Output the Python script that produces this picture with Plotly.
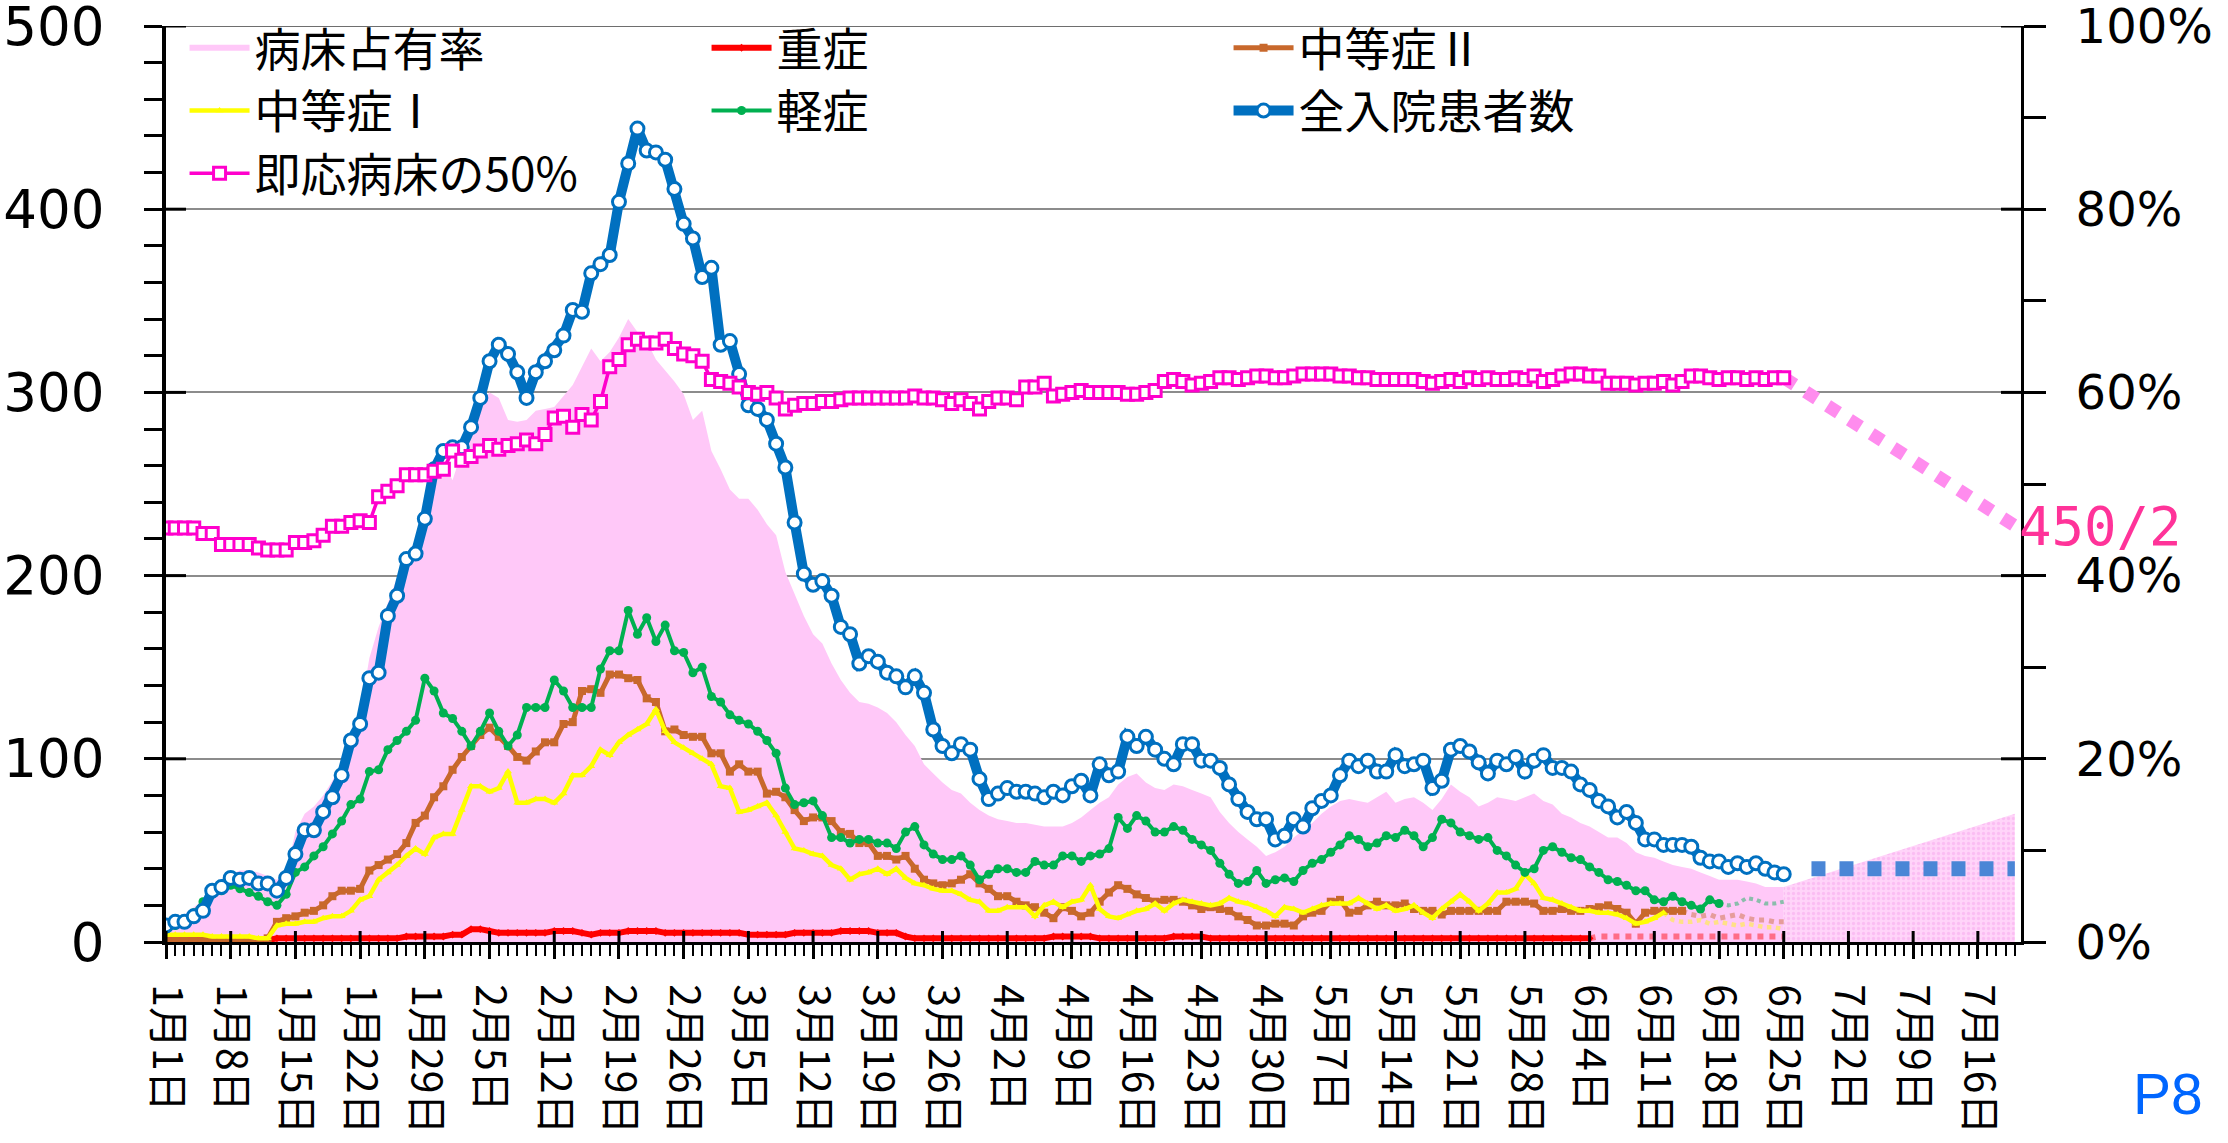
import pandas as pd
import plotly.graph_objects as go

START = "2021-01-01"

# 全入院患者数 (Jan 1 - Jun 25)
total = [9, 11, 11, 14, 17, 28, 30, 35, 34, 35,
         32, 32, 28, 35, 48, 61, 61, 71, 79, 91,
         110, 119, 144, 147, 178, 189, 209, 212, 231, 258,
         268, 270, 270, 281, 297, 317, 326, 321, 311, 297,
         311, 317, 323, 331, 345, 344, 365, 370, 375, 404,
         425, 444, 432, 431, 427, 411, 392, 384, 363, 368,
         326, 328, 310, 293, 291, 285, 272, 259, 229, 201,
         195, 197, 189, 172, 168, 152, 156, 153, 147, 145,
         139, 145, 136, 116, 107, 103, 108, 105, 89, 78,
         81, 84, 82, 82, 81, 79, 82, 80, 85, 88,
         80, 97, 91, 93, 112, 107, 112, 105, 100, 97,
         108, 108, 99, 99, 95, 86, 78, 71, 67, 67,
         56, 58, 67, 63, 73, 77, 80, 91, 99, 96,
         99, 93, 93, 102, 96, 97, 99, 84, 88, 105,
         107, 104, 98, 92, 99, 97, 101, 93, 99, 102,
         95, 95, 93, 86, 83, 77, 74, 68, 71, 65,
         56, 56, 53, 53, 53, 52, 46, 44, 44, 41,
         43, 41, 43, 40, 38, 37]

# 即応病床の50%
beds50 = [226, 226, 226, 226, 223, 223, 217, 217, 217, 217,
          215, 214, 214, 214, 218, 218, 219, 222, 227, 227,
          229, 230, 229, 243, 246, 249, 255, 255, 255, 257,
          258, 268, 263, 265, 268, 271, 269, 271, 272, 274,
          272, 277, 286, 287, 281, 288, 285, 295, 314, 318,
          326, 329, 327, 327, 329, 324, 321, 320, 317, 307,
          306, 305, 303, 300, 299, 300, 297, 291, 293, 294,
          294, 295, 295, 296, 297, 297, 297, 297, 297, 297,
          297, 298, 297, 297, 296, 294, 296, 294, 291, 295,
          297, 297, 296, 303, 303, 305, 298, 299, 300, 301,
          300, 300, 300, 300, 299, 299, 300, 301, 306, 307,
          306, 304, 305, 306, 308, 308, 307, 308, 309, 309,
          308, 308, 309, 310, 310, 310, 310, 309, 309, 308,
          308, 307, 307, 307, 307, 307, 306, 305, 306, 307,
          306, 308, 307, 308, 307, 307, 308, 307, 309, 306,
          307, 309, 310, 310, 309, 309, 305, 305, 305, 304,
          305, 305, 306, 304, 306, 309, 309, 308, 307, 308,
          308, 307, 308, 307, 308, 308]

# 軽症
mild = [7, 9, 11, 16, 22, 26, 28, 31, 29, 27,
        25, 22, 20, 26, 38, 41, 47, 52, 59, 66,
        75, 78, 93, 94, 105, 110, 115, 121, 144, 137,
        125, 122, 115, 107, 115, 125, 115, 107, 113, 128,
        128, 128, 143, 137, 128, 128, 128, 149, 159, 159,
        181, 168, 177, 164, 173, 159, 158, 147, 150, 134,
        131, 124, 121, 119, 115, 110, 103, 84, 75, 76,
        77, 69, 57, 57, 54, 56, 56, 54, 54, 51,
        60, 63, 53, 48, 45, 45, 47, 42, 34, 37,
        40, 40, 38, 38, 44, 42, 42, 47, 47, 44,
        47, 48, 51, 68, 62, 69, 66, 60, 60, 63,
        61, 56, 53, 50, 43, 37, 32, 33, 39, 32,
        34, 35, 33, 39, 43, 45, 49, 53, 58, 56,
        52, 54, 58, 57, 61, 58, 52, 57, 67, 65,
        60, 58, 56, 57, 50, 47, 42, 38, 40, 50,
        52, 49, 46, 45, 41, 38, 34, 33, 31, 28,
        28, 23, 22, 25, 22, 20, 18, 23, 21, 20,
        21, 24, 23, 21, 21, 22]

# 中等症Ⅱ
moderate2 = [1, 1, 1, 1, 1, 1, 1, 1, 1, 1,
             1, 2, 11, 13, 14, 16, 17, 20, 25, 28,
             28, 29, 39, 42, 45, 48, 54, 65, 69, 79,
             85, 94, 101, 107, 113, 117, 112, 107, 101, 99,
             104, 109, 109, 119, 120, 137, 138, 136, 146, 146,
             144, 143, 133, 131, 115, 116, 113, 112, 112, 103,
             103, 93, 97, 93, 93, 81, 82, 79, 72, 66,
             68, 68, 66, 60, 59, 54, 54, 47, 47, 45,
             47, 40, 34, 32, 31, 32, 34, 37, 32, 29,
             25, 25, 22, 20, 19, 16, 13, 19, 17, 14,
             16, 22, 27, 31, 29, 26, 24, 22, 23, 23,
             22, 20, 18, 19, 18, 17, 14, 12, 9, 9,
             10, 10, 9, 14, 16, 17, 22, 23, 16, 17,
             20, 22, 20, 20, 21, 18, 17, 17, 15, 17,
             17, 17, 17, 17, 17, 22, 22, 22, 21, 17,
             17, 18, 17, 17, 18, 19, 20, 18, 16, 10,
             16, 17, 17, 17, 17, 15, 14, 15, 13, 14,
             15, 13, 12, 12, 11, 11]

# 中等症Ⅰ
moderate1 = [4, 4, 4, 4, 4, 3, 3, 3, 3, 3,
             2, 2, 9, 10, 10, 11, 11, 13, 14, 14,
             17, 23, 25, 34, 38, 42, 47, 51, 48, 57,
             59, 59, 72, 85, 85, 82, 84, 93, 76, 76,
             78, 78, 76, 81, 91, 91, 96, 105, 102, 109,
             113, 116, 119, 127, 115, 109, 106, 103, 100, 97,
             85, 84, 71, 72, 74, 76, 69, 60, 51, 50,
             48, 47, 42, 40, 34, 37, 38, 40, 37, 40,
             35, 32, 31, 29, 28, 28, 26, 23, 22, 17,
             17, 19, 19, 19, 14, 20, 22, 19, 22, 23,
             31, 18, 14, 13, 15, 17, 18, 21, 17, 21,
             23, 22, 21, 20, 21, 24, 22, 21, 19, 17,
             14, 19, 18, 16, 18, 20, 21, 21, 21, 24,
             21, 18, 20, 17, 18, 20, 16, 13, 18, 22,
             26, 22, 17, 21, 27, 27, 29, 37, 32, 24,
             23, 21, 19, 17, 17, 16, 16, 15, 13, 10,
             11, 13, 16, 12, 11, 11, 12, 10, 11, 10,
             9, 10, 9, 8, 8, 7]

# 重症
severe = [1, 1, 1, 1, 1, 1, 1, 1, 1, 1,
          1, 1, 2, 2, 2, 2, 2, 2, 2, 2,
          2, 2, 2, 2, 2, 2, 3, 3, 3, 3,
          3, 4, 4, 7, 7, 6, 5, 5, 5, 5,
          5, 5, 6, 6, 6, 5, 4, 5, 5, 5,
          6, 6, 6, 6, 5, 5, 5, 5, 5, 5,
          5, 5, 5, 4, 4, 4, 4, 4, 5, 5,
          5, 5, 5, 6, 6, 6, 6, 5, 5, 5,
          3, 2, 2, 2, 2, 2, 2, 2, 2, 2,
          2, 2, 2, 2, 2, 2, 3, 3, 3, 3,
          3, 2, 2, 2, 2, 2, 2, 2, 2, 3,
          3, 3, 3, 2, 2, 2, 2, 2, 2, 2,
          2, 2, 2, 2, 2, 2, 2, 2, 2, 2,
          2, 2, 2, 2, 2, 2, 2, 2, 2, 2,
          2, 2, 2, 2, 2, 2, 2, 2, 2, 2,
          2, 2, 2, 2, 2, 3, 3, 3, 3, 3,
          3, 3, 3, 3, 3, 3, 3, 3, 3, 3,
          3, 3, 3, 3, 3, 3]

# 病床占有率 (%)
occupancy = [2.2, 2.6, 3.0, 3.8, 4.6, 5.8, 6.6, 7.4, 7.8, 7.8,
             7.6, 7.2, 6.8, 7.6, 12.0, 14.0, 14.8, 16.0, 17.6, 19.6,
             22.0, 25.0, 31.0, 34.4, 37.0, 39.8, 41.2, 42.8, 46.4, 50.4,
             52.4, 50.4, 53.6, 56.4, 58.8, 60.0, 59.4, 57.0, 56.8, 57.0,
             58.0, 58.2, 58.4, 59.6, 60.8, 62.8, 64.8, 63.4, 64.4, 66.0,
             68.0, 66.6, 65.6, 63.6, 62.4, 61.2, 59.8, 57.0, 58.0, 53.6,
             51.6, 49.4, 48.4, 48.4, 47.2, 45.6, 44.4, 40.4, 38.0, 35.6,
             33.6, 32.6, 30.4, 28.6, 27.2, 26.2, 26.0, 25.6, 25.0, 24.0,
             22.6, 21.4, 19.4, 18.4, 17.4, 16.6, 16.2, 15.2, 14.4, 13.8,
             13.4, 13.2, 13.0, 13.0, 12.8, 12.6, 12.6, 12.6, 13.0, 13.6,
             14.4, 15.2, 15.8, 17.2, 18.0, 18.4, 17.4, 16.8, 16.6, 17.2,
             17.0, 16.6, 16.2, 15.8, 14.2, 13.0, 12.0, 11.2, 10.4, 9.4,
             9.8, 10.4, 11.4, 12.2, 13.0, 14.0, 14.8, 15.4, 15.6, 15.4,
             15.2, 15.8, 16.4, 15.2, 15.6, 15.8, 15.2, 14.4, 15.6, 17.2,
             16.4, 15.8, 14.8, 15.2, 15.8, 15.6, 15.4, 15.8, 16.2, 15.4,
             15.0, 14.0, 13.6, 13.0, 12.6, 12.0, 11.4, 11.4, 10.8, 9.8,
             9.4, 9.2, 8.8, 8.4, 8.2, 8.0, 7.6, 7.2, 6.8, 6.8,
             6.8, 6.6, 6.4, 6.0, 6.0, 6.0]

# last day (index) drawn as confirmed data for each severity; later days are preliminary
severe_final = 154
moderate1_final = 162
moderate2_final = 164
mild_final = 168

# projections
proj_occ_dates = ["2021-06-25", "2021-07-20"]
proj_occ = [6.0, 14.0]
proj_total_dates = ["2021-06-28", "2021-07-20"]
proj_total = [40, 40]
proj_beds_dates = ["2021-06-25", "2021-07-21"]
proj_beds = [308, 224]
beds_target_label = "450/2"
beds_target_value = 225

tick_labels = ["1月1日", "1月8日", "1月15日", "1月22日", "1月29日", "2月5日", "2月12日",
               "2月19日", "2月26日", "3月5日", "3月12日", "3月19日", "3月26日", "4月2日",
               "4月9日", "4月16日", "4月23日", "4月30日", "5月7日", "5月14日", "5月21日",
               "5月28日", "6月4日", "6月11日", "6月18日", "6月25日", "7月2日", "7月9日",
               "7月16日"]
left_ticks = [0, 100, 200, 300, 400, 500]
left_labels = ["0", "100", "200", "300", "400", "500"]
right_ticks = [0, 20, 40, 60, 80, 100]
right_labels = ["0%", "20%", "40%", "60%", "80%", "100%"]

dates = pd.date_range(START, periods=len(total), freq="D")
tick_dates = pd.date_range(START, periods=len(tick_labels), freq="7D")

PINK_FILL = "#FFC8F8"
BLUE = "#0070C0"
MAGENTA = "#FF00CC"
GREEN = "#00B050"
ORANGE = "#C8682C"
YELLOW = "#FFFF00"
RED = "#FF0000"

JP = "Noto Sans CJK JP"

fig = go.Figure()

# occupancy area (right % axis = yaxis, drawn beneath)
fig.add_trace(go.Scatter(x=dates, y=occupancy, name="病床占有率", mode="none",
                         fill="tozeroy", fillcolor=PINK_FILL, yaxis="y"))
fig.add_trace(go.Scatter(x=proj_occ_dates, y=proj_occ, mode="none", fill="tozeroy",
                         fillcolor="#FFD0F8",
                         fillpattern=dict(shape=".", fgcolor="#F7A6EE", bgcolor="#FFD4F9",
                                          size=5, solidity=0.35),
                         showlegend=False, yaxis="y", hoverinfo="skip"))


def add_series(name, values, final, color, lw, symbol, msize, mline=None, mfill=None):
    k = len(values) - 1 if final is None else final
    marker = dict(symbol=symbol, size=msize, color=mfill or color)
    if mline:
        marker["line"] = dict(color=mline, width=3)
    fig.add_trace(go.Scatter(x=dates[:k + 1], y=values[:k + 1], name=name,
                             mode="lines+markers", line=dict(color=color, width=lw),
                             marker=marker, yaxis="y2"))
    if final is not None:
        fig.add_trace(go.Scatter(x=dates[k:], y=values[k:], mode="lines",
                                 line=dict(color=color, width=lw, dash="dot"),
                                 opacity=0.45, showlegend=False, yaxis="y2",
                                 hoverinfo="skip"))


add_series("重症", severe, severe_final, RED, 6, "diamond", 6)
add_series("中等症Ⅱ", moderate2, moderate2_final, ORANGE, 5, "square", 8)
add_series("中等症Ⅰ", moderate1, moderate1_final, YELLOW, 4.5, "triangle-up", 7)
add_series("軽症", mild, mild_final, GREEN, 4, "circle", 9)

# projection of total
fig.add_trace(go.Scatter(x=proj_total_dates, y=proj_total, mode="lines",
                         line=dict(color="#4A86D6", width=15, dash="14px,14px"),
                         showlegend=False, yaxis="y2", hoverinfo="skip"))
add_series("全入院患者数", total, None, BLUE, 10, "circle", 13, mline=BLUE, mfill="white")

# projection of 50% beds
fig.add_trace(go.Scatter(x=proj_beds_dates, y=proj_beds, mode="lines",
                         line=dict(color="#FF8CEE", width=13, dash="dot"),
                         showlegend=False, yaxis="y2", hoverinfo="skip"))
add_series("即応病床の50%", beds50, None, MAGENTA, 3.5, "square", 12, mline=MAGENTA, mfill="white")

# top border line (gridline at 500 / 100%) and inside parts of crossing major ticks
shapes = [dict(type="line", xref="paper", yref="y", x0=0, x1=1, y0=100, y1=100,
               line=dict(color="#6E6E6E", width=2))]
for v in left_ticks[1:]:
    shapes.append(dict(type="line", xref="paper", yref="y2", xsizemode="pixel", xanchor=0,
                       x0=0, x1=20, y0=v, y1=v, line=dict(color="black", width=3)))
for v in right_ticks[1:]:
    shapes.append(dict(type="line", xref="paper", yref="y", xsizemode="pixel", xanchor=1,
                       x0=-20, x1=0, y0=v, y1=v, line=dict(color="black", width=3)))
for d in tick_dates:
    shapes.append(dict(type="line", xref="x", yref="paper", ysizemode="pixel", yanchor=0,
                       x0=d, x1=d, y0=0, y1=11, line=dict(color="black", width=3)))

fig.update_layout(
    width=2228, height=1143,
    margin=dict(l=166, r=207, t=26, b=201, pad=0, autoexpand=False),
    plot_bgcolor="white", paper_bgcolor="white",
    shapes=shapes,
    legend=dict(orientation="h", x=0.01, y=1.016, xanchor="left", yanchor="top",
                font=dict(family=JP, size=46, color="black"), bgcolor="rgba(0,0,0,0)",
                itemwidth=60, entrywidth=447, traceorder="normal", tracegroupgap=0),
    xaxis=dict(type="date", range=[START, "2021-07-20 16:00"], tickmode="array",
               tickvals=tick_dates, ticktext=tick_labels, tickangle=90, automargin=False,
               ticks="outside", ticklen=14, tickwidth=3, tickcolor="black",
               showline=True, linecolor="black", linewidth=3, showgrid=False,
               tickfont=dict(family=JP, size=41, color="black"), ticklabelstandoff=17,
               ticklabeloverflow="allow",
               minor=dict(tickmode="linear", tick0=START, dtick=86400000, ticks="outside",
                          ticklen=11, tickwidth=2, tickcolor="black", showgrid=False)),
    yaxis=dict(side="right", range=[0, 100], tickmode="array", tickvals=right_ticks,
               ticktext=right_labels, showgrid=True, gridcolor="#8C8C8C", gridwidth=2,
               ticks="outside", ticklen=22, tickwidth=3, tickcolor="black", automargin=False,
               showline=True, linecolor="black", linewidth=3, zeroline=False,
               tickfont=dict(family="DejaVu Sans", size=48, color="black"),
               ticklabelstandoff=20, ticklabeloverflow="allow",
               minor=dict(dtick=10, ticks="outside", ticklen=22, tickwidth=3,
                          tickcolor="black", showgrid=False)),
    yaxis2=dict(side="left", overlaying="y", range=[0, 500], tickmode="array",
                tickvals=left_ticks, ticktext=left_labels, showgrid=False, zeroline=False,
                ticks="outside", ticklen=18, tickwidth=3, tickcolor="black", automargin=False,
                showline=True, linecolor="black", linewidth=4,
                tickfont=dict(family="DejaVu Sans", size=53, color="black"),
                ticklabelstandoff=29, ticklabeloverflow="allow",
                minor=dict(dtick=20, ticks="outside", ticklen=18, tickwidth=3,
                           tickcolor="black", showgrid=False)),
    annotations=[
        dict(text=beds_target_label, xref="paper", x=1.0, xanchor="left", xshift=-4,
             yref="y2", y=beds_target_value, yanchor="middle", yshift=3, showarrow=False,
             font=dict(family="DejaVu Sans Mono", size=54, color="#FF3399")),
        dict(text="P8", xref="paper", x=1.0992, xanchor="right", yref="paper", y=-0.166,
             yanchor="middle", showarrow=False,
             font=dict(family="Liberation Sans", size=57, color="#0066FF")),
    ],
)

fig.write_html("out.html", config={"displayModeBar": False},
               post_script="document.body.style.margin='0';document.body.style.overflow='hidden';")
